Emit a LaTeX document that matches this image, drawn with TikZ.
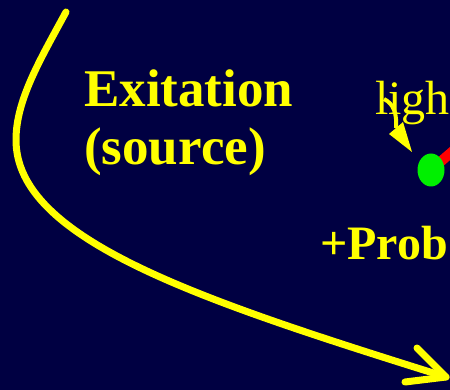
\documentclass[tikz,border=0pt]{standalone}
\usepackage{fontspec}
\setmainfont{Liberation Serif}
\usetikzlibrary{shapes.geometric}
\definecolor{bgnavy}{RGB}{0,0,66}
\definecolor{ylw}{RGB}{255,255,0}
\definecolor{grn}{RGB}{0,240,0}
\definecolor{rd}{RGB}{255,0,0}
\tikzset{
  txt/.style={text=ylw, inner sep=0pt, anchor=base west},
  bigcurve/.style={draw=ylw, line width=7pt, line cap=round, line join=round},
  ballstyle/.style={ellipse, fill=grn, minimum width=27pt, minimum height=33pt, inner sep=0pt},
}
\begin{document}
\begin{tikzpicture}[x=1pt,y=-1pt]
\clip (0,0) rectangle (450,390);
\fill[bgnavy] (0,0) rectangle (450,390);
% red stick and green ball
\coordinate (ballc) at (431,170);
\coordinate (rend) at (475,132);
\draw[rd, line width=10pt] (ballc) -- (rend);
\node (ball) [ballstyle] at (ballc) {};
% texts
\node (exit) [txt, font=\bfseries\fontsize{53}{60}\selectfont] at (84,107) {Exitation};
\node (src) [txt, font=\bfseries\fontsize{53}{60}\selectfont] at (84,165) {(source)};
\node (light) [txt, font=\fontsize{48}{54}\selectfont] at (375,115) {ligh};
\node (prob) [txt, font=\bfseries\fontsize{48}{56}\selectfont] at (320,260) {+Prob};
% small arrow
\coordinate (sa) at (384,99);
\coordinate (sb) at (396,128);
\draw[ylw, line width=4pt] (sa) .. controls (394,104) and (397,114) .. (sb);
\fill[ylw] (389,134) -- (403,122) -- (412,152) -- cycle;
% big curve
\coordinate (c0) at (66,12);
\coordinate (c1) at (16,140);
\coordinate (tip) at (446,377);
\path[bigcurve] (c0) .. controls (40,60) and (16,100) .. (c1)
  .. controls (16,240) and (200,300) .. (tip);
\path[bigcurve] (417,348) -- (tip) -- (405,382);
\end{tikzpicture}
\end{document}
